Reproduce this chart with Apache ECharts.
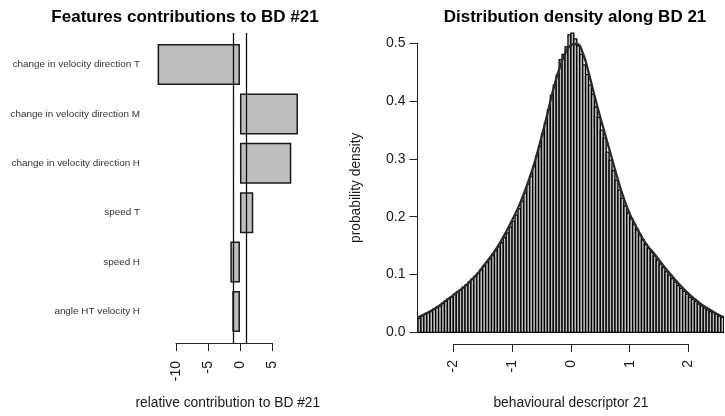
<!DOCTYPE html>
<html>
<head>
<meta charset="utf-8">
<script src="https://cdn.jsdelivr.net/npm/echarts@6/dist/echarts.min.js"></script>
<style>html,body{margin:0;padding:0;background:#fff}#c{width:725px;height:416px}</style>
</head>
<body>
<div id="c"></div>
<script>
// ---- Left panel data ----
var featureNames = ['change in velocity direction T', 'change in velocity direction M', 'change in velocity direction H', 'speed T', 'speed H', 'angle HT velocity H'];
var featureContrib = [-12.86, 9.06, 8.02, 2.08, -1.5, -1.2];
var thresholdLines = [-0.98, 0.94];
var leftTicks = [-10, -5, 0, 5];

// ---- Right panel data ----
var histStart = -2.6;
var histBinWidth = 0.05;
var histDensity = [
 0.024,0.028,0.031,0.034,0.036,0.040,0.043,0.046,0.050,0.054,
 0.058,0.061,0.066,0.070,0.073,0.078,0.082,0.087,0.092,0.097,
 0.102,0.108,0.114,0.121,0.127,0.133,0.141,0.148,0.155,0.164,
 0.172,0.182,0.192,0.203,0.214,0.227,0.241,0.256,0.270,0.287,
 0.305,0.322,0.343,0.362,0.385,0.410,0.428,0.445,0.472,0.481,
 0.494,0.515,0.518,0.508,0.496,0.481,0.463,0.446,0.428,0.412,
 0.390,0.372,0.350,0.336,0.312,0.298,0.280,0.263,0.246,0.232,
 0.219,0.207,0.197,0.187,0.178,0.169,0.160,0.152,0.145,0.138,
 0.132,0.125,0.118,0.112,0.105,0.099,0.093,0.087,0.081,0.076,
 0.071,0.066,0.061,0.057,0.053,0.049,0.046,0.042,0.039,0.036,
 0.034,0.031,0.028,0.026
];
var curveX = [-2.6,-2.5,-2.4,-2.3,-2.2,-2.1,-2.0,-1.9,-1.8,-1.7,-1.6,-1.5,-1.4,-1.3,-1.2,-1.1,-1.0,-0.9,-0.8,-0.7,-0.6,-0.5,-0.4,-0.3,-0.2,-0.1,0.0,0.1,0.2,0.3,0.4,0.5,0.6,0.7,0.8,0.9,1.0,1.1,1.2,1.3,1.4,1.5,1.6,1.7,1.8,1.9,2.0,2.1,2.2,2.3,2.4,2.5,2.6];
var curveY = [0.026,0.031,0.036,0.042,0.049,0.057,0.064,0.072,0.080,0.090,0.100,0.113,0.126,0.140,0.156,0.174,0.194,0.215,0.240,0.268,0.300,0.338,0.378,0.420,0.455,0.482,0.497,0.499,0.484,0.450,0.410,0.372,0.336,0.300,0.264,0.232,0.205,0.185,0.166,0.150,0.138,0.125,0.112,0.100,0.088,0.077,0.067,0.058,0.050,0.043,0.037,0.031,0.026];

var histData = histDensity.map(function (d, i) {
  var x0 = histStart + i * histBinWidth;
  return [x0, x0 + histBinWidth, d];
});
var curveData = curveX.map(function (x, i) { return [x, curveY[i]]; });

var FONT = 'Liberation Sans, Arial, Helvetica, sans-serif';
var TXT = '#1a1a1a';
var TICK_FS = 14;
var NAME_FS = 13.8;

var chart = echarts.init(document.getElementById('c'), null, {renderer: 'canvas'});

var hidden = {show: false};
var option = {
  animation: false,
  backgroundColor: '#fff',
  textStyle: {fontFamily: FONT},
  title: [
    {text: 'Features contributions to BD #21', left: 180, top: 4, textAlign: 'center',
     textStyle: {fontFamily: FONT, fontSize: 17, fontWeight: 'bold', color: '#000'}},
    {text: 'Distribution density along BD 21', left: 570, top: 4, textAlign: 'center',
     textStyle: {fontFamily: FONT, fontSize: 17, fontWeight: 'bold', color: '#000'}}
  ],
  grid: [
    {left: 152, width: 151.6, top: 39.8, height: 296.4},   // 0 bars
    {left: 152, width: 151.6, top: 33, height: 310},       // 1 vertical lines
    {left: 176, width: 96, top: 333, height: 10},          // 2 visible x axis (left)
    {left: 417.5, width: 10, top: 43.3, height: 289},      // 3 visible y axis (right)
    {left: 453.3, width: 235.2, top: 334, height: 10},     // 4 visible x axis (right)
    {left: 418, width: 305.8, top: 29, height: 315}        // 5 histogram
  ],
  xAxis: [
    {gridIndex: 0, type: 'value', min: -13.74, max: 9.94,
     axisLine: hidden, axisTick: hidden, axisLabel: hidden, splitLine: hidden,
     name: 'relative contribution to BD #21', nameLocation: 'middle', nameGap: 60,
     nameTextStyle: {fontFamily: FONT, fontSize: NAME_FS, color: TXT}},
    {gridIndex: 1, type: 'value', min: -13.74, max: 9.94, show: false},
    {gridIndex: 2, type: 'value', min: leftTicks[0], max: leftTicks[leftTicks.length - 1], interval: 5,
     axisLine: {show: true, onZero: false, lineStyle: {color: '#222', width: 1}},
     axisTick: {show: true, length: 8, lineStyle: {color: '#222', width: 1}},
     axisLabel: {rotate: 90, margin: 18, fontFamily: FONT, fontSize: TICK_FS, color: TXT},
     splitLine: hidden},
    {gridIndex: 3, type: 'value', min: 0, max: 1, show: false},
    {gridIndex: 4, type: 'value', min: -2, max: 2, interval: 1,
     axisLine: {show: true, onZero: false, lineStyle: {color: '#222', width: 1}},
     axisTick: {show: true, length: 8, lineStyle: {color: '#222', width: 1}},
     axisLabel: {rotate: 90, margin: 16, fontFamily: FONT, fontSize: TICK_FS, color: TXT},
     splitLine: hidden,
     name: 'behavioural descriptor 21', nameLocation: 'middle', nameGap: 52,
     nameTextStyle: {fontFamily: FONT, fontSize: NAME_FS, color: TXT}},
    {gridIndex: 5, type: 'value', min: -2.6, max: 2.6, show: false}
  ],
  yAxis: [
    {gridIndex: 0, type: 'category', data: featureNames, inverse: true,
     axisLine: hidden, axisTick: hidden, splitLine: hidden,
     axisLabel: {margin: 12, fontFamily: FONT, fontSize: 9.9, color: '#333'}},
    {gridIndex: 1, type: 'value', min: 0, max: 1, show: false},
    {gridIndex: 2, type: 'value', min: 0, max: 1, show: false},
    {gridIndex: 3, type: 'value', min: 0, max: 0.5, interval: 0.1,
     axisLine: {show: true, lineStyle: {color: '#222', width: 1}},
     axisTick: {show: true, length: 8, lineStyle: {color: '#222', width: 1}},
     axisLabel: {margin: 12, fontFamily: FONT, fontSize: TICK_FS, color: TXT,
       formatter: function (v) { return v.toFixed(1); }},
     splitLine: hidden,
     name: 'probability density', nameLocation: 'middle', nameGap: 54, nameRotate: 90,
     nameTextStyle: {fontFamily: FONT, fontSize: NAME_FS, color: TXT}},
    {gridIndex: 4, type: 'value', min: 0, max: 1, show: false},
    {gridIndex: 5, type: 'value', min: -0.0202, max: 0.525, show: false}
  ],
  series: [
    {type: 'bar', xAxisIndex: 0, yAxisIndex: 0, data: featureContrib, barCategoryGap: '17%',
     itemStyle: {color: '#bebebe', borderColor: '#1a1a1a', borderWidth: 1.5}},
    {type: 'scatter', xAxisIndex: 1, yAxisIndex: 1, data: [], silent: true,
     markLine: {symbol: 'none', silent: true, label: {show: false},
       lineStyle: {color: '#111', width: 1.3, type: 'solid'},
       data: thresholdLines.map(function (v) { return {xAxis: v}; })}},
    {type: 'custom', xAxisIndex: 5, yAxisIndex: 5, data: histData, clip: true,
     renderItem: function (params, api) {
       var p0 = api.coord([api.value(0), api.value(2)]);
       var p1 = api.coord([api.value(1), 0]);
       return {type: 'rect',
         shape: {x: p0[0], y: p0[1], width: p1[0] - p0[0], height: p1[1] - p0[1]},
         style: {fill: '#bebebe', stroke: '#000', lineWidth: 1.3}};
     }},
    {type: 'line', xAxisIndex: 5, yAxisIndex: 5, data: curveData, smooth: true,
     symbol: 'none', z: 5, clip: true,
     lineStyle: {color: '#2a2a2a', width: 2.3}}
  ]
};
chart.setOption(option);
</script>
</body>
</html>
